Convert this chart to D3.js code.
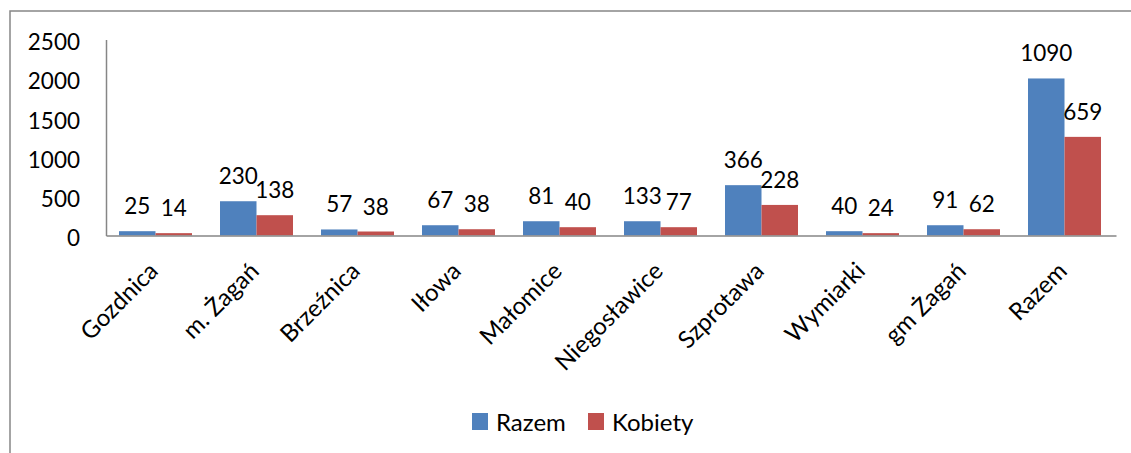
<!DOCTYPE html>
<html><head><meta charset="utf-8">
<script src="https://cdn.jsdelivr.net/npm/d3@7"></script>
<style>
html,body{margin:0;padding:0;background:#fff;}
svg{display:block;font-family:Lato,"Open Sans",sans-serif;}
</style></head>
<body>
<svg id="chart" width="1131" height="453"></svg>
<script>
const categories = ["Gozdnica","m. Żagań","Brzeźnica","Iłowa","Małomice","Niegosławice","Szprotawa","Wymiarki","gm Żagań","Razem"];
const seriesNames = ["Razem","Kobiety"];
const razemValues = [55, 437, 77, 131, 182, 182, 642, 55, 131, 2003];
const kobietyValues = [30, 259, 51, 80, 106, 106, 390, 30, 80, 1258];
const razemLabels = [25, 230, 57, 67, 81, 133, 366, 40, 91, 1090];
const kobietyLabels = [14, 138, 38, 38, 40, 77, 228, 24, 62, 659];
const yTicks = [0, 500, 1000, 1500, 2000, 2500];
const colors = ["#4F81BD", "#C0504D"];

const svg = d3.select("#chart");
const fs = 22.5;
const fsText = 24;

// outer frame
svg.append("rect").attr("x",10).attr("y",11).attr("width",1130).attr("height",460)
  .attr("fill","none").attr("stroke","#878787").attr("stroke-width",1.5);

const x0 = d3.scaleBand().domain(categories).range([106,1116]).padding(0);
const x1 = d3.scaleBand().domain(seriesNames).range([13,86]).padding(0);
const y = d3.scaleLinear().domain([0,2500]).range([235.5,39.5]);

const data = categories.map((c,i)=>({cat:c, vals:[
  {s:"Razem", v:razemValues[i], lab:razemLabels[i]},
  {s:"Kobiety", v:kobietyValues[i], lab:kobietyLabels[i]}]}));

const g = svg.append("g");
const groups = g.selectAll("g.grp").data(data).join("g")
  .attr("transform", d=>`translate(${x0(d.cat)},0)`);
groups.selectAll("rect").data(d=>d.vals).join("rect")
  .attr("x", d=>x1(d.s)).attr("width", x1.bandwidth())
  .attr("y", d=>y(d.v)).attr("height", d=>y(0)-y(d.v))
  .attr("fill", (d,i)=>colors[i]);
groups.selectAll("text.lbl").data(d=>d.vals).join("text").attr("class","lbl")
  .attr("x", d=>x1(d.s)+x1.bandwidth()/2).attr("y", d=>y(d.v)-17)
  .attr("text-anchor","middle").attr("font-size",fs).attr("fill","#000")
  .text(d=>d.lab);

// y axis
const yAxis = d3.axisLeft(y).tickValues(yTicks).tickSize(0).tickPadding(26).tickFormat(d3.format("d"));
const ya = svg.append("g").attr("transform","translate(106,0)").call(yAxis);
ya.select(".domain").attr("stroke","#868686").attr("stroke-width",1.5);
ya.selectAll("text").attr("font-size",fs).attr("font-family","Lato").attr("fill","#000")
  .attr("dy","0.45em");

// x axis
const xAxis = d3.axisBottom(x0).tickSize(0).tickFormat(d=>d);
const xa = svg.append("g").attr("transform","translate(0,235.5)").call(xAxis);
xa.select(".domain").attr("stroke","#868686").attr("stroke-width",1.5);
xa.selectAll(".tick text").attr("font-size",fsText).attr("font-family","Lato").attr("fill","#000")
  .attr("text-anchor","end").attr("x",0).attr("y",0).attr("dy",0)
  .attr("transform","translate(3,37) rotate(-45)");

// legend
const leg = svg.append("g");
const legX = [472, 588];
seriesNames.forEach((s,i)=>{
  leg.append("rect").attr("x",legX[i]).attr("y",413).attr("width",16).attr("height",17).attr("fill",colors[i]);
  leg.append("text").attr("x",legX[i]+24).attr("y",431).attr("font-size",fsText).attr("fill","#000").text(s);
});
</script>
</body></html>
